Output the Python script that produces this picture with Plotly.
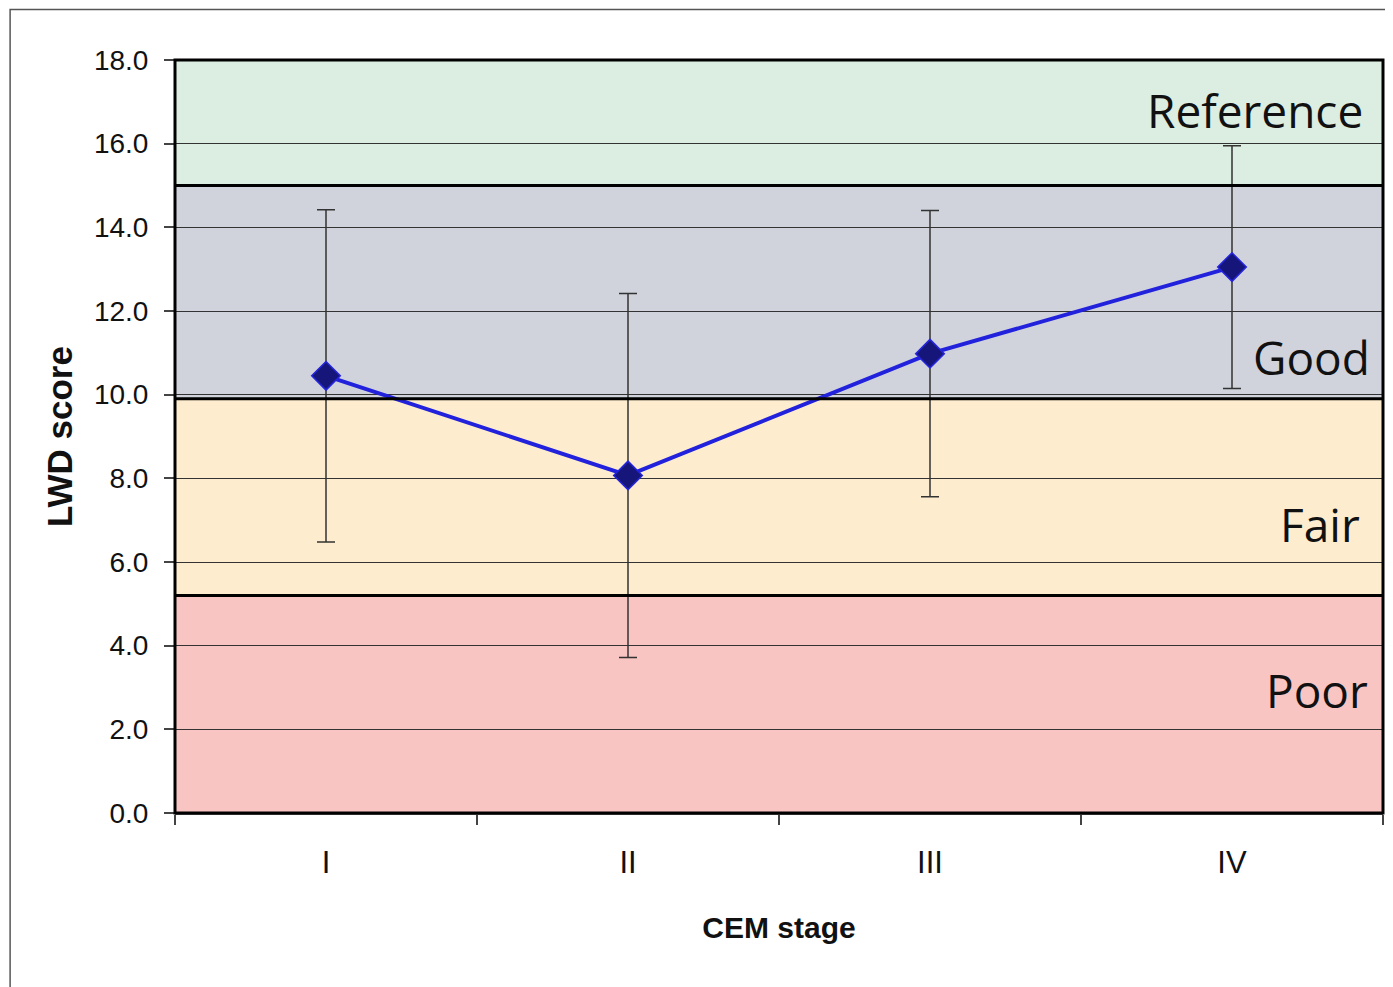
import plotly.graph_objects as go

stages = ["I", "II", "III", "IV"]
lwd_mean = [10.45, 8.07, 10.98, 13.05]
lwd_err = [3.97, 4.35, 3.42, 2.9]

band_names = ["Poor", "Fair", "Good", "Reference"]
band_low = [0.0, 5.2, 9.9, 15.0]
band_high = [5.2, 9.9, 15.0, 18.0]
band_colors = ["#F8C5C2", "#FDECCD", "#D0D3DC", "#DCEDE1"]

y_ticks = [0, 2, 4, 6, 8, 10, 12, 14, 16, 18]

# label placement (layout only)
label_ypos = [2.95, 6.9, 10.9, 16.8]
label_xpos = [0.989, 0.9826, 0.991, 0.985]

TICKFONT = "Liberation Sans, Arial"
LABELFONT = "Open Sans, Noto Sans, sans-serif"

fig = go.Figure()

fig.add_trace(go.Scatter(
    x=stages, y=lwd_mean,
    mode="lines+markers",
    line=dict(color="#2222DD", width=4),
    marker=dict(symbol="diamond", size=22, color="#16167A",
                line=dict(color="#2525E0", width=1.5)),
    error_y=dict(type="data", array=lwd_err, visible=True,
                 color="#333333", thickness=1.5, width=9),
    showlegend=False,
))

shapes = []
for lo, hi, col in zip(band_low, band_high, band_colors):
    shapes.append(dict(type="rect", xref="paper", yref="y", x0=0, x1=1,
                       y0=lo, y1=hi, fillcolor=col, line=dict(width=0),
                       layer="below"))
for b in band_low[1:]:
    shapes.append(dict(type="line", xref="paper", yref="y", x0=0, x1=1,
                       y0=b, y1=b, line=dict(color="black", width=3),
                       layer="above"))
shapes.append(dict(type="rect", xref="paper", yref="paper", x0=0, x1=1,
                   y0=0, y1=1, line=dict(color="black", width=3),
                   fillcolor="rgba(0,0,0,0)", layer="above"))
# outer chart border
shapes.append(dict(type="rect", xref="paper", yref="paper",
                   x0=-0.1365, x1=1.2, y0=-0.5, y1=1.067,
                   line=dict(color="#555555", width=1.5),
                   fillcolor="rgba(0,0,0,0)", layer="above"))

annotations = []
for name, yy, xx in zip(band_names, label_ypos, label_xpos):
    annotations.append(dict(text=name, xref="paper", yref="y", x=xx,
                            y=yy, xanchor="right", yanchor="middle",
                            showarrow=False,
                            font=dict(family=LABELFONT, size=46, color="#111111")))

fig.update_layout(
    width=1381, height=979,
    margin=dict(l=167, r=6, t=52, b=174),
    paper_bgcolor="white", plot_bgcolor="white",
    shapes=shapes, annotations=annotations,
    xaxis=dict(
        type="category", tickson="boundaries", ticks="outside",
        ticklen=10, tickwidth=1.5, tickcolor="#444444",
        showgrid=False, showline=True, linecolor="#555555", linewidth=2,
        ticklabelstandoff=21,
        tickfont=dict(family=TICKFONT, size=31, color="#111111"),
        title=dict(text="<b>CEM stage</b>", standoff=38,
                   font=dict(family=TICKFONT, size=30, color="#111111")),
        range=[-0.5, 3.5],
    ),
    yaxis=dict(
        range=[0, 18], tickvals=y_ticks, tickformat=".1f",
        ticks="outside", ticklen=10, tickwidth=1.5, tickcolor="#444444",
        showgrid=True, gridcolor="#333333", gridwidth=1,
        showline=False, zeroline=False,
        ticklabelstandoff=10,
        tickfont=dict(family=TICKFONT, size=28, color="#111111"),
        title=dict(text="<b>LWD score</b>", standoff=10,
                   font=dict(family=TICKFONT, size=35, color="#111111")),
    ),
)

fig.write_html("out.html")
